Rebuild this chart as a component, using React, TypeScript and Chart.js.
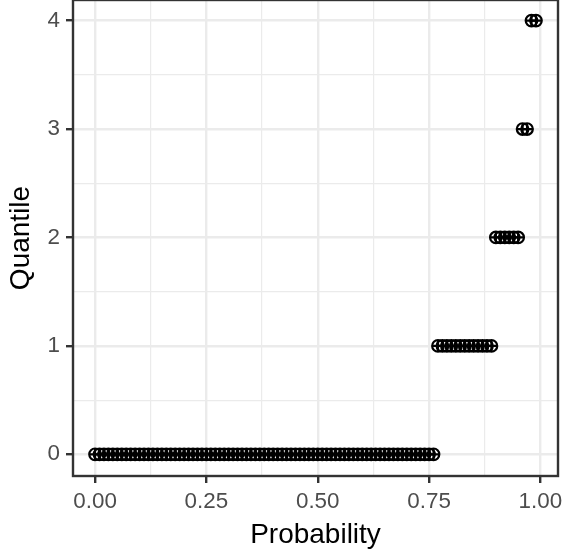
import React, { useEffect, useRef } from "react";
import { Chart, registerables } from "chart.js";

Chart.register(...registerables);

// ---- data ----
const probabilities = [
  0.00, 0.01, 0.02, 0.03, 0.04, 0.05, 0.06, 0.07, 0.08, 0.09,
  0.10, 0.11, 0.12, 0.13, 0.14, 0.15, 0.16, 0.17, 0.18, 0.19,
  0.20, 0.21, 0.22, 0.23, 0.24, 0.25, 0.26, 0.27, 0.28, 0.29,
  0.30, 0.31, 0.32, 0.33, 0.34, 0.35, 0.36, 0.37, 0.38, 0.39,
  0.40, 0.41, 0.42, 0.43, 0.44, 0.45, 0.46, 0.47, 0.48, 0.49,
  0.50, 0.51, 0.52, 0.53, 0.54, 0.55, 0.56, 0.57, 0.58, 0.59,
  0.60, 0.61, 0.62, 0.63, 0.64, 0.65, 0.66, 0.67, 0.68, 0.69,
  0.70, 0.71, 0.72, 0.73, 0.74, 0.75, 0.76, 0.77, 0.78, 0.79,
  0.80, 0.81, 0.82, 0.83, 0.84, 0.85, 0.86, 0.87, 0.88, 0.89,
  0.90, 0.91, 0.92, 0.93, 0.94, 0.95, 0.96, 0.97, 0.98, 0.99,
];
const quantiles = [
  0, 0, 0, 0, 0, 0, 0, 0, 0, 0,
  0, 0, 0, 0, 0, 0, 0, 0, 0, 0,
  0, 0, 0, 0, 0, 0, 0, 0, 0, 0,
  0, 0, 0, 0, 0, 0, 0, 0, 0, 0,
  0, 0, 0, 0, 0, 0, 0, 0, 0, 0,
  0, 0, 0, 0, 0, 0, 0, 0, 0, 0,
  0, 0, 0, 0, 0, 0, 0, 0, 0, 0,
  0, 0, 0, 0, 0, 0, 0, 1, 1, 1,
  1, 1, 1, 1, 1, 1, 1, 1, 1, 1,
  2, 2, 2, 2, 2, 2, 3, 3, 4, 4,
];
const xTickValues = [0, 0.25, 0.5, 0.75, 1];
const xTickLabels = ["0.00", "0.25", "0.50", "0.75", "1.00"];
const xMinorTicks = [0.125, 0.375, 0.625, 0.875];
const yTickValues = [0, 1, 2, 3, 4];
const yTickLabels = ["0", "1", "2", "3", "4"];
const yMinorTicks = [0.5, 1.5, 2.5, 3.5];
const xTitle = "Probability";
const yTitle = "Quantile";

const FONT = "'Liberation Sans', Arial, Helvetica, sans-serif";
const MAJOR_W = 2.4;
const MINOR_W = 1.2;

function axis(
  major: number[],
  labels: string[],
  minor: number[],
  min: number,
  max: number,
  title: string,
  isX: boolean
) {
  const all = [...major, ...minor].filter((v) => v >= min && v <= max).sort((a, b) => a - b);
  const isMajor = (v: number) => major.some((m) => Math.abs(m - v) < 1e-9);
  const tickIsMajor = (ctx: any) => (ctx && ctx.tick ? isMajor(ctx.tick.value) : true);
  return {
    type: "linear" as const,
    min,
    max,
    afterBuildTicks: (s: any) => {
      s.ticks = all.map((v) => ({ value: v }));
    },
    afterFit: (s: any) => {
      if (isX) s.height = 76;
      else s.width = 73;
      s.paddingLeft = 0;
      s.paddingRight = 0;
      s.paddingTop = 0;
      s.paddingBottom = 0;
    },
    grid: {
      color: "#EBEBEB",
      lineWidth: (ctx: any) => (tickIsMajor(ctx) ? MAJOR_W : MINOR_W),
      drawTicks: true,
      tickLength: 7,
      tickColor: (ctx: any) => (tickIsMajor(ctx) ? "#333333" : "rgba(0,0,0,0)"),
      tickWidth: (ctx: any) => (tickIsMajor(ctx) ? MAJOR_W : 0),
    },
    border: { display: false },
    ticks: {
      autoSkip: false,
      maxRotation: 0,
      minRotation: 0,
      padding: isX ? 5 : 6,
      color: "#4D4D4D",
      font: { family: FONT, size: 22.4 },
      callback: (v: any) => {
        const i = major.findIndex((m) => Math.abs(m - Number(v)) < 1e-9);
        return i >= 0 ? labels[i] : "";
      },
    },
    title: {
      display: true,
      text: title,
      color: "#000000",
      font: { family: FONT, size: 28, lineHeight: 1.2 },
      padding: isX ? { top: 0, bottom: 0 } : { top: 4, bottom: 0 },
    },
  };
}

const panelBorder = {
  id: "panelBorder",
  afterDraw(chart: any) {
    const { ctx, chartArea } = chart;
    const { left, top, right, bottom } = chartArea;
    ctx.save();
    ctx.strokeStyle = "#333333";
    ctx.lineWidth = MAJOR_W;
    ctx.strokeRect(left, top, right - left, bottom - top);
    ctx.restore();
  },
};

export default function App() {
  const ref = useRef<HTMLCanvasElement | null>(null);

  useEffect(() => {
    document.body.style.margin = "0";
    const canvas = ref.current;
    if (!canvas) return;
    const points = probabilities.map((p, i) => ({ x: p, y: quantiles[i] }));
    const marker = {
      data: points,
      pointRadius: 5.8,
      pointBorderWidth: 2.2,
      pointBorderColor: "#000000",
      pointBackgroundColor: "rgba(0,0,0,0)",
      pointHoverRadius: 5.8,
    };
    const chart = new Chart(canvas, {
      type: "scatter",
      data: {
        datasets: [
          { ...marker, pointStyle: "circle" },
          { ...marker, pointStyle: "cross" },
        ],
      },
      options: {
        animation: false,
        responsive: false,
        maintainAspectRatio: false,
        events: [],
        layout: { autoPadding: false, padding: { left: 0, right: 8, top: 0, bottom: 0 } },
        plugins: {
          legend: { display: false },
          tooltip: { enabled: false },
        },
        scales: {
          x: axis(xTickValues, xTickLabels, xMinorTicks, -0.0495, 1.0395, xTitle, true),
          y: axis(yTickValues, yTickLabels, yMinorTicks, -0.2, 4.19, yTitle, false),
        },
      },
      plugins: [panelBorder],
    });
    return () => chart.destroy();
  }, []);

  return (
    <div style={{ position: "absolute", left: 0, top: 0, width: 566, height: 552 }}>
      <canvas ref={ref} width={566} height={552} style={{ display: "block", width: 566, height: 552 }} />
    </div>
  );
}
